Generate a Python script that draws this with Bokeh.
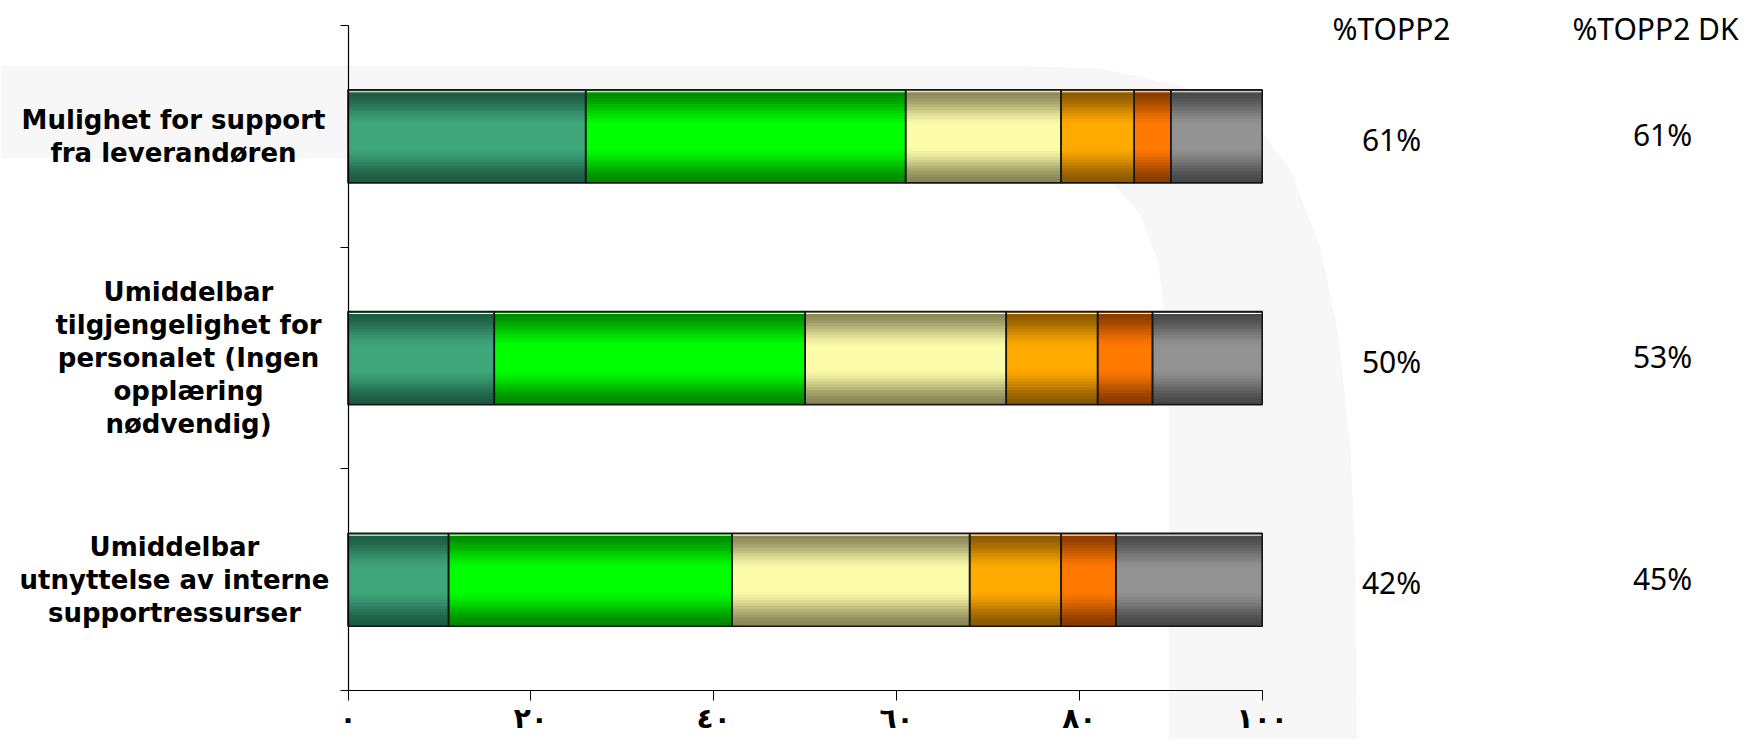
import numpy as np
from bokeh.plotting import figure
from bokeh.models import (Range1d, LinearAxis, FixedTicker, Label,
                          PolyAnnotation, ColumnDataSource)
from bokeh.embed import file_html
from bokeh.resources import INLINE

# ---------------- data ----------------
categories = [
    "Mulighet for support\nfra leverandøren",
    "Umiddelbar\ntilgjengelighet for\npersonalet (Ingen\nopplæring\nnødvendig)",
    "Umiddelbar\nutnyttelse av interne\nsupportressurser",
]
seg1 = [26, 16, 11]
seg2 = [35, 34, 31]
seg3 = [17, 22, 26]
seg4 = [8, 10, 10]
seg5 = [4, 6, 6]
seg6 = [10, 12, 16]
topp2 = [61, 50, 42]
topp2_dk = [61, 53, 45]
x_ticks = [0, 20, 40, 60, 80, 100]
x_tick_labels = ["٠", "٢٠", "٤٠", "٦٠", "٨٠", "١٠٠"]
header_1 = "%TOPP2"
header_2 = "%TOPP2 DK"

# ---------------- styles ----------------
series = [seg1, seg2, seg3, seg4, seg5, seg6]
center_colors = ["#3fa67c", "#00ff00", "#fdfcaa", "#ffaa00", "#ff7800", "#939393"]
edge_colors = ["#1c5a42", "#008800", "#898556", "#8a5800", "#8a3a00", "#474747"]
cat_label_center_px = [173, 188, 174]

def h2r(h):
    h = h.lstrip("#")
    return np.array([int(h[i:i + 2], 16) for i in (0, 2, 4)], dtype=float)

def mix(c1, c2, w):
    c = h2r(c1) * (1 - w) + h2r(c2) * w
    return "#%02x%02x%02x" % tuple(int(round(v)) for v in c)

def smooth(t, a=0.2, b=1.0):
    u = min(max((t - a) / (b - a), 0.0), 1.0)
    return u * u * (3 - 2 * u)

n = len(categories)
y_pos = [n - i - 0.5 for i in range(n)]
BAR_H = 0.42

# canvas geometry (px)
W, H = 1741, 739
X0_PX, PX_X = 347.5, 9.142      # x=0 position, px per x unit
YTOP_PX, PX_Y = 25.0, 221.7     # y=n position, px per y unit

def dx(X):
    return (X - X0_PX) / PX_X

def dy(Y):
    return n - (Y - YTOP_PX) / PX_Y

lefts, rights, ys, segs = [], [], [], []
cum = np.zeros(n)
for j, s in enumerate(series):
    for i in range(n):
        lefts.append(float(cum[i]))
        rights.append(float(cum[i] + s[i]))
        ys.append(y_pos[i])
        segs.append(j)
    cum = cum + np.array(s, dtype=float)

p = figure(width=W, height=H, output_backend="svg", toolbar_location=None,
           x_range=Range1d(dx(0), dx(W)), y_range=Range1d(dy(H), dy(0)),
           x_axis_location=None, y_axis_location=None, min_border=0)
p.outline_line_color = None
p.xgrid.visible = False
p.ygrid.visible = False
p.background_fill_color = "white"
p.border_fill_color = "white"

# decorative watermark shape (page px converted to data)
outer = [(-20, 65), (1000, 65), (1100, 68), (1180, 85), (1253, 120), (1290, 170),
         (1320, 247), (1338, 335), (1350, 450), (1355, 560), (1357, 800)]
inner = [(1168, 800), (1168, 400), (1165, 320), (1157, 260), (1140, 215),
         (1110, 180), (1080, 165), (1040, 158), (-20, 158)]
pts = outer + inner
p.add_layout(PolyAnnotation(xs=[dx(X) for X, Y in pts], ys=[dy(Y) for X, Y in pts],
                            xs_units="data", ys_units="data",
                            fill_color="#f7f7f7", fill_alpha=1.0,
                            line_color=None, level="underlay"))

# gradient bars built from nested layers
N = 16
for k in range(N):
    t_out = 1 - k / N
    t_mid = 1 - (k + 0.5) / N
    w = smooth(t_mid)
    cols = [mix(center_colors[j], edge_colors[j], w) for j in segs]
    src = ColumnDataSource(dict(y=ys, left=lefts, right=rights, c=cols))
    p.hbar(y="y", left="left", right="right", height=BAR_H * t_out,
           fill_color="c", line_color=None, source=src)

src_o = ColumnDataSource(dict(y=ys, left=lefts, right=rights,
                              ytop=[y + BAR_H / 2 - 2.0 / PX_Y for y in ys]))
p.segment(x0="left", x1="right", y0="ytop", y1="ytop", line_color="white",
          line_width=1, source=src_o)
p.hbar(y="y", left="left", right="right", height=BAR_H, fill_color=None,
       line_color="#161616", line_width=1.6, source=src_o)

# axes (fixed inside the frame)
xaxis = LinearAxis(ticker=FixedTicker(ticks=x_ticks, minor_ticks=[]),
                   major_label_overrides={t: l for t, l in zip(x_ticks, x_tick_labels)},
                   fixed_location=0, bounds=(0, 100))
xaxis.axis_line_color = "black"
xaxis.axis_line_width = 1.2
xaxis.major_tick_line_color = "black"
xaxis.major_tick_out = 10
xaxis.major_tick_in = 0
xaxis.minor_tick_line_color = None
xaxis.major_label_standoff = 1
xaxis.major_label_text_font = "DejaVu Sans"
xaxis.major_label_text_font_style = "bold"
xaxis.major_label_text_font_size = "28px"
xaxis.major_label_text_color = "black"
p.add_layout(xaxis, "below")

bounds_ticks = list(range(n + 1))
yaxis = LinearAxis(ticker=FixedTicker(ticks=bounds_ticks, minor_ticks=[]),
                   major_label_overrides={t: "" for t in bounds_ticks},
                   fixed_location=0, bounds=(0, n))
yaxis.axis_line_color = "black"
yaxis.axis_line_width = 1.2
yaxis.major_tick_line_color = "black"
yaxis.major_tick_out = 8
yaxis.major_tick_in = 0
yaxis.minor_tick_line_color = None
p.add_layout(yaxis, "left")

# category labels, centred lines
for i in range(n):
    p.add_layout(Label(x=dx(cat_label_center_px[i]), y=y_pos[i], text=categories[i],
                       text_font="DejaVu Sans", text_font_style="bold",
                       text_font_size="26px", text_line_height=1.1,
                       text_color="black", text_align="center",
                       text_baseline="middle"))

# right-hand text columns
txt = dict(text_font="Noto Sans", text_font_size="30px", text_color="black",
           text_align="center", text_baseline="middle")
p.add_layout(Label(x=dx(1391), y=dy(28), text=header_1, **txt))
p.add_layout(Label(x=dx(1655), y=dy(28), text=header_2, **txt))
for i in range(n):
    p.add_layout(Label(x=dx(1391), y=y_pos[i] - 3.0 / PX_Y, text=f"{topp2[i]}%", **txt))
    p.add_layout(Label(x=dx(1662), y=y_pos[i] + 1.5 / PX_Y, text=f"{topp2_dk[i]}%", **txt))

open("out.html", "w").write(file_html(p, INLINE))
